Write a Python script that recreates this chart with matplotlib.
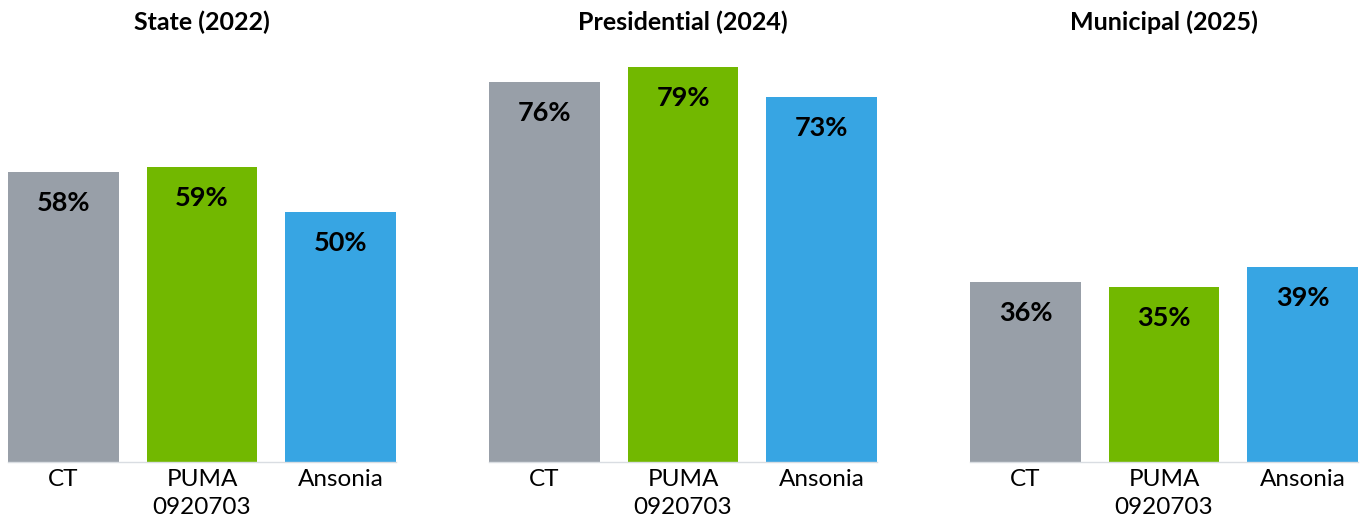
import matplotlib.pyplot as plt

# Turnout by election and geography
elections = ["State (2022)", "Presidential (2024)", "Municipal (2025)"]
places = ["CT", "PUMA\n0920703", "Ansonia"]
turnout_ct = [58, 76, 36]
turnout_puma = [59, 79, 35]
turnout_ansonia = [50, 73, 39]

bar_colors = ["#989fa8", "#72b800", "#37a5e3"]

plt.rcParams["font.family"] = ["Lato", "DejaVu Sans"]

W, H = 1360, 525
fig = plt.figure(figsize=(W / 100, H / 100), dpi=100)

panel_lefts = [8, 489, 970]
panel_width = 388
baseline = 462
top = 46

for i, title in enumerate(elections):
    ax = fig.add_axes([panel_lefts[i] / W, (H - baseline) / H,
                       panel_width / W, (baseline - top) / H])
    values = [turnout_ct[i], turnout_puma[i], turnout_ansonia[i]]
    bars = ax.bar(range(3), values, width=0.8, color=bar_colors)
    ax.set_xlim(-0.4, 2.4)
    ax.set_ylim(0, 83.2)
    ax.set_yticks([])
    ax.set_xticks(range(3))
    ax.set_xticklabels(places, fontsize=17.5, linespacing=1.4)
    ax.tick_params(axis="x", length=0, pad=5)
    for side in ["top", "right", "left"]:
        ax.spines[side].set_visible(False)
    ax.spines["bottom"].set_color("#d9dde2")
    ax.spines["bottom"].set_linewidth(1)

    for bar, v in zip(bars, values):
        ax.annotate(f"{v}%", (bar.get_x() + bar.get_width() / 2, v),
                    xytext=(0, -22), textcoords="offset points",
                    ha="center", va="center", fontsize=19.5, fontweight="bold")

    fig.text((panel_lefts[i] + panel_width / 2) / W, 1 - 22 / H, title,
             ha="center", va="center", fontsize=18, fontweight="bold")

fig.savefig("out.png", dpi=100)
